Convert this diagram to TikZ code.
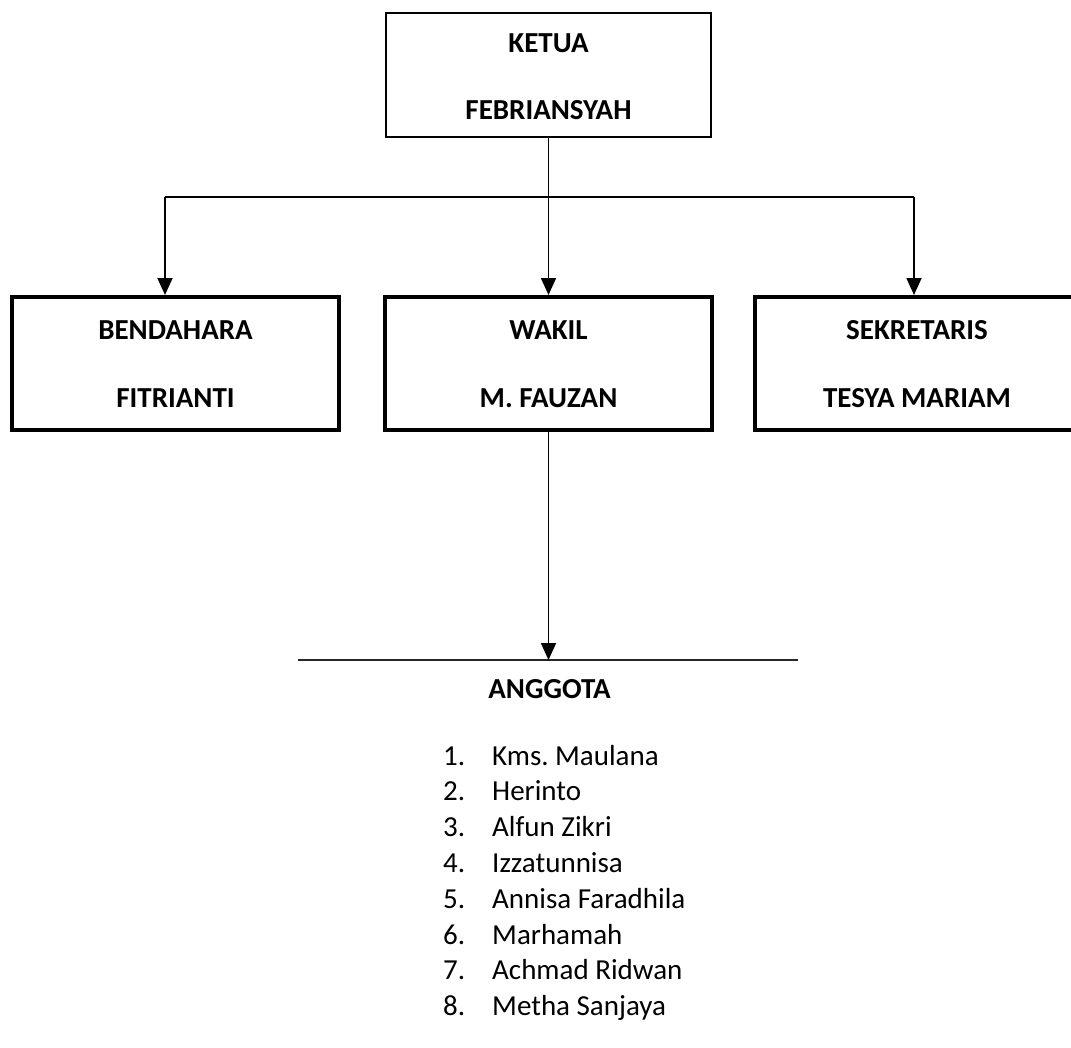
\documentclass[tikz,border=0pt]{standalone}
\usepackage{fontspec}
\setmainfont{Carlito}
\frenchspacing
\usetikzlibrary{arrows.meta}
\tikzset{
  topbox/.style={draw=black, line width=2pt, minimum width=325pt, minimum height=124pt, inner sep=0pt},
  subbox/.style={draw=black, line width=4pt, minimum width=327pt, minimum height=133pt, inner sep=0pt},
  boxtext/.style={anchor=base, inner sep=0pt, font=\fontsize{29}{35}\selectfont\bfseries},
  listtext/.style={anchor=base west, inner sep=0pt, font=\fontsize{29}{35}\selectfont},
  conn/.style={line width=1.7pt, draw=black},
  arr/.style={conn, -{Triangle[length=17pt,width=15pt]}},
}
\begin{document}
\begin{tikzpicture}[x=1pt,y=-1pt]
\useasboundingbox (0,0) rectangle (1071,1047);
% boxes
\node[topbox] (ketua) at (548.5,75) {};
\node[subbox] (bendahara) at (175.5,363.5) {};
\node[subbox] (wakil) at (548.5,363.5) {};
\node[subbox] (sekretaris) at (918.5,363.5) {};
% texts
\node[boxtext] (t1) at (548.5,52) {KETUA};
\node[boxtext] (t2) at (548.5,119) {FEBRIANSYAH};
\node[boxtext] (t3) at (175.5,339) {BENDAHARA};
\node[boxtext] (t4) at (175.5,407) {FITRIANTI};
\node[boxtext] (t5) at (548.5,339) {WAKIL};
\node[boxtext] (t6) at (548.5,407) {M. FAUZAN};
\node[boxtext] (t7) at (917,339) {SEKRETARIS};
\node[boxtext] (t8) at (917,407) {TESYA MARIAM};
% connectors
\coordinate (bl) at (165,197);
\coordinate (br) at (914,197);
\draw[conn] (bl) -- (br);
\draw[arr] (ketua.south) -- (wakil.north);
\draw[arr] (bl) -- (bl |- bendahara.north);
\draw[arr] (br) -- (br |- sekretaris.north);
\coordinate (al) at (298,660);
\coordinate (ar) at (798,660);
\draw[line width=1.8pt, draw=black!85] (al) -- (ar);
\draw[arr] (wakil.south) -- (wakil.south |- al);
% anggota
\node[boxtext] (anggota) at (549.5,698) {ANGGOTA};
\foreach \i/\name in {1/Kms. Maulana, 2/Herinto, 3/Alfun Zikri, 4/Izzatunnisa, 5/Annisa Faradhila, 6/Marhamah, 7/Achmad Ridwan, 8/Metha Sanjaya}{
  \node[listtext] (n\i) at (443,{765+35.8*(\i-1)}) {\i.};
  \node[listtext] (m\i) at (492,{765+35.8*(\i-1)}) {\name};
}
\end{tikzpicture}
\end{document}
